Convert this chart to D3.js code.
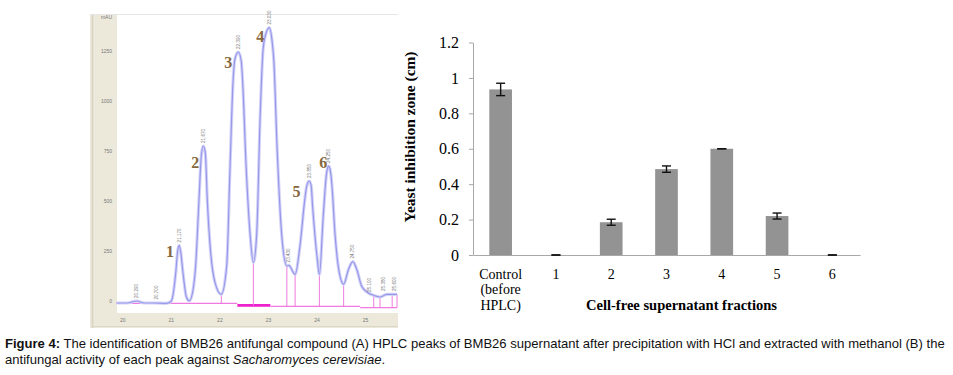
<!DOCTYPE html>
<html>
<head>
<meta charset="utf-8">
<script src="https://cdn.jsdelivr.net/npm/d3@7/dist/d3.min.js"></script>
<style>
  html, body { margin: 0; padding: 0; background: #ffffff; }
  svg { display: block; }
</style>
</head>
<body>
<svg id="fig" width="953" height="375"></svg>
<script>
// ---------------- DATA ----------------
// (A) HPLC chromatogram: retention time (min) and signal (mAU)
const chromTime = [19.88, 20.10, 20.29, 20.45, 20.63, 20.91, 21.01, 21.10, 21.14, 21.17, 21.20, 21.25, 21.32, 21.38,
  21.46, 21.51, 21.58, 21.63, 21.67, 21.71, 21.75, 21.82, 21.91, 22.04, 22.15, 22.22, 22.28, 22.32, 22.39, 22.45, 22.48, 22.55,
  22.63, 22.70, 22.77, 22.84, 22.90, 22.95, 23.03, 23.09, 23.12, 23.19, 23.28, 23.39, 23.43, 23.56, 23.66, 23.76,
  23.80, 23.85, 23.89, 23.92, 24.01, 24.06, 24.14, 24.21, 24.23, 24.25, 24.28, 24.32, 24.38, 24.47, 24.56, 24.66, 24.75, 24.83,
  24.93, 25.04, 25.18, 25.31, 25.45, 25.56, 25.66];
const chromSignal = [-10, -10, 0, -10, -10, -12, 0, 140, 250, 278, 250, 140, 20, 0,
  60, 175, 508, 735, 775, 740, 508, 242, 92, 33, 175, 675, 1092, 1210, 1245, 1200, 1092, 675,
  342, 192, 342, 925, 1258, 1330, 1367, 1290, 1208, 758, 342, 175, 178, 133, 275, 508,
  575, 600, 578, 475, 225, 133, 425, 642, 665, 675, 660, 575, 342, 142, 83, 158, 197, 158,
  75, 45, 28, 20, 33, 33, 33];
const chromXTicks = [20, 21, 22, 23, 24, 25];
const chromYTicks = [0, 250, 500, 750, 1000, 1250];
const chromYUnit = "mAU";
// integration baseline segments [start, end, level, thick]
const baseStart = [19.88, 22.37, 23.05, 24.90];
const baseEnd   = [22.37, 23.05, 24.90, 25.66];
const baseLevel = [-12, -22, -27, -33];
const baseThick = [false, true, false, false];
// drop lines between peaks
const dropTimes = [22.04, 22.70, 23.39, 23.56, 24.06, 24.56, 25.18, 25.31, 25.56, 25.66];
// retention-time labels above peaks
const rtTimes  = [20.29, 20.70, 21.17, 21.67, 22.39, 23.03, 23.43, 23.85, 24.25, 24.75, 25.10, 25.38, 25.60];
const rtTops   = [0, -8, 278, 775, 1245, 1367, 178, 600, 675, 197, 30, 35, 35];
// numbered fractions drawn on the chromatogram
const peakNames = ["1", "2", "3", "4", "5", "6"];
const peakNameT = [20.98, 21.50, 22.18, 22.84, 23.59, 24.14];
const peakNameV = [220, 665, 1165, 1295, 520, 665];

// (B) bar chart
const categories = ["Control (before HPLC)", "1", "2", "3", "4", "5", "6"];
const categoryLines = [["Control", "(before", "HPLC)"], ["1"], ["2"], ["3"], ["4"], ["5"], ["6"]];
const inhibition = [0.935, 0, 0.185, 0.485, 0.60, 0.22, 0];
const inhibitionErr = [0.035, 0, 0.017, 0.018, 0, 0.017, 0];
const barYTicks = [0, 0.2, 0.4, 0.6, 0.8, 1, 1.2];
const barYTitle = "Yeast inhibition zone (cm)";
const barXTitle = "Cell-free supernatant fractions";

// caption
const captionBold = "Figure 4:";
const captionLine1 = " The identification of BMB26 antifungal compound (A) HPLC peaks of BMB26 supernatant after precipitation with HCl and extracted with methanol (B) the";
const captionLine2a = "antifungal activity of each peak against ";
const captionLine2b = "Sacharomyces cerevisiae";
const captionLine2c = ".";

// ---------------- DRAW ----------------
const svg = d3.select("#fig");

// ---- Panel A ----
const pA = svg.append("g");
pA.append("rect").attr("x", 90).attr("y", 14).attr("width", 308).attr("height", 314).attr("fill", "#ece9da");
pA.append("line").attr("x1", 92.5).attr("x2", 92.5).attr("y1", 14).attr("y2", 328).attr("stroke", "#d6d2c2").attr("stroke-width", 1.5);
pA.append("line").attr("x1", 92).attr("x2", 398).attr("y1", 326.5).attr("y2", 326.5).attr("stroke", "#dcd8c8").attr("stroke-width", 1);
pA.append("rect").attr("x", 117).attr("y", 14).attr("width", 281).attr("height", 299).attr("fill", "#ffffff");
pA.append("line").attr("x1", 90).attr("x2", 398).attr("y1", 14.5).attr("y2", 14.5).attr("stroke", "#e6e6e6");

const xC = d3.scaleLinear().domain([19.89, 25.68]).range([117, 398]);
const yC = d3.scaleLinear().domain([-60, 1435]).range([313, 14]);

// axis labels (tiny, grey)
const yAxC = d3.axisLeft(yC).tickValues(chromYTicks).tickSize(0).tickPadding(5).tickFormat(d3.format("d"));
const gy = pA.append("g").attr("transform", "translate(117,0)").call(yAxC);
gy.select(".domain").remove();
gy.selectAll("text").attr("font-size", 5).attr("font-family", "Liberation Sans, Arial, sans-serif").attr("fill", "#777");
pA.append("text").attr("x", 112).attr("y", 19).attr("text-anchor", "end").attr("font-size", 5)
  .attr("font-family", "Liberation Sans, Arial, sans-serif").attr("fill", "#777").text(chromYUnit);

const xAxC = d3.axisBottom(xC).tickValues(chromXTicks).tickSize(0).tickPadding(4).tickFormat(d3.format("d"));
const gx = pA.append("g").attr("transform", "translate(0,314)").call(xAxC);
gx.select(".domain").remove();
gx.selectAll("text").attr("font-size", 5).attr("font-family", "Liberation Sans, Arial, sans-serif").attr("fill", "#777");

// baseline segments
baseStart.forEach((s, i) => {
  pA.append("line")
    .attr("x1", xC(s)).attr("x2", xC(baseEnd[i]))
    .attr("y1", yC(baseLevel[i])).attr("y2", yC(baseLevel[i]))
    .attr("stroke", baseThick[i] ? "#ee22cc" : "#f07ae0")
    .attr("stroke-width", baseThick[i] ? 2.6 : 1.1);
});
// drop lines
function levelAt(t) {
  for (let i = 0; i < baseStart.length; i++) if (t >= baseStart[i] && t <= baseEnd[i]) return baseLevel[i];
  return baseLevel[baseLevel.length - 1];
}
dropTimes.forEach(t => {
  const idx = chromTime.findIndex(v => Math.abs(v - t) < 0.005);
  const top = idx >= 0 ? chromSignal[idx] : 30;
  pA.append("line").attr("x1", xC(t)).attr("x2", xC(t))
    .attr("y1", yC(top)).attr("y2", yC(levelAt(t)))
    .attr("stroke", "#f07ae0").attr("stroke-width", 1);
});

// chromatogram line
const chromPts = chromTime.map((t, i) => [t, chromSignal[i]]);
const line = d3.line().x(d => xC(d[0])).y(d => yC(d[1])).curve(d3.curveMonotoneX);
pA.append("path").datum(chromPts).attr("d", line).attr("fill", "none")
  .attr("stroke", "#d4d4f8").attr("stroke-width", 3.2);
pA.append("path").datum(chromPts).attr("d", line).attr("fill", "none")
  .attr("stroke", "#9898ea").attr("stroke-width", 1.2);

// retention time labels
rtTimes.forEach((t, i) => {
  const x = xC(t), y = yC(rtTops[i]) - 3;
  pA.append("text").attr("transform", `translate(${x + 1.6},${y}) rotate(-90)`)
    .attr("font-size", 4.6).attr("font-family", "Liberation Sans, Arial, sans-serif")
    .attr("fill", "#7a7a7a").text(t.toFixed(3));
});

// fraction numbers
peakNames.forEach((n, i) => {
  pA.append("text").attr("x", xC(peakNameT[i])).attr("y", yC(peakNameV[i]))
    .attr("text-anchor", "middle").attr("font-size", 16).attr("font-weight", "bold")
    .attr("font-family", "Liberation Serif, Times New Roman, serif")
    .attr("fill", "#86683e").text(n);
});

// ---- Panel B ----
const pB = svg.append("g");
const serif = "Liberation Serif, Times New Roman, serif";
const xB = d3.scaleBand().domain(categories).range([473, 860]).paddingInner(0.59).paddingOuter(0.295);
const yB = d3.scaleLinear().domain([0, 1.2]).range([255, 42.5]);

const yAxB = d3.axisLeft(yB).tickValues(barYTicks).tickSize(4).tickSizeOuter(0).tickPadding(10)
  .tickFormat(d => String(+d.toFixed(1)));
const gyb = pB.append("g").attr("transform", "translate(473,0)").call(yAxB);
gyb.select(".domain").attr("stroke", "#a8a8a8");
gyb.selectAll(".tick line").attr("stroke", "#a8a8a8");
gyb.selectAll("text").attr("font-size", 16).attr("font-family", serif).attr("fill", "#000");

// bars
pB.selectAll("rect.bar").data(categories).enter().append("rect").attr("class", "bar")
  .attr("x", d => xB(d)).attr("width", xB.bandwidth())
  .attr("y", (d, i) => yB(inhibition[i]))
  .attr("height", (d, i) => yB(0) - yB(inhibition[i]))
  .attr("fill", "#939393");

// x axis
const xAxB = d3.axisBottom(xB).tickSize(0).tickSizeOuter(0).tickFormat("");
const gxb = pB.append("g").attr("transform", "translate(0,255)").call(xAxB);
gxb.select(".domain").attr("stroke", "#a8a8a8").attr("stroke-width", 1.2);
categories.forEach((c, i) => {
  const t = pB.append("text").attr("x", xB(c) + xB.bandwidth() / 2).attr("y", 279)
    .attr("text-anchor", "middle").attr("font-size", 14).attr("font-family", serif).attr("fill", "#000");
  categoryLines[i].forEach((ln, j) => {
    t.append("tspan").attr("x", xB(c) + xB.bandwidth() / 2).attr("dy", j === 0 ? 0 : 15.3).text(ln);
  });
});

// error bars
categories.forEach((c, i) => {
  const cx = xB(c) + xB.bandwidth() / 2;
  const hi = yB(inhibition[i] + inhibitionErr[i]), lo = yB(inhibition[i] - inhibitionErr[i]);
  const g = pB.append("g").attr("stroke", "#111").attr("stroke-width", 1.4);
  g.append("line").attr("x1", cx).attr("x2", cx).attr("y1", hi).attr("y2", lo);
  g.append("line").attr("x1", cx - 4.5).attr("x2", cx + 4.5).attr("y1", hi).attr("y2", hi);
  g.append("line").attr("x1", cx - 4.5).attr("x2", cx + 4.5).attr("y1", lo).attr("y2", lo);
});

// axis titles
pB.append("text").attr("transform", "translate(415,137) rotate(-90)")
  .attr("text-anchor", "middle").attr("font-size", 14).attr("font-weight", "bold")
  .attr("font-family", serif).attr("textLength", 171).attr("lengthAdjust", "spacingAndGlyphs")
  .text(barYTitle);
pB.append("text").attr("x", 681.5).attr("y", 310)
  .attr("text-anchor", "middle").attr("font-size", 14).attr("font-weight", "bold")
  .attr("font-family", serif).attr("textLength", 191).attr("lengthAdjust", "spacingAndGlyphs")
  .text(barXTitle);

// ---- Caption (narrow look via horizontal scaling) ----
const capFont = "Liberation Sans, Arial, sans-serif";
const capG1 = svg.append("g");
const c1 = capG1.append("text").attr("x", 0).attr("y", 0).attr("font-size", 13.5)
  .attr("font-family", capFont).attr("fill", "#111");
c1.append("tspan").attr("font-weight", "bold").text(captionBold);
c1.append("tspan").text(captionLine1);
const w1 = c1.node().getComputedTextLength();
const sx = 941 / w1;
capG1.attr("transform", `translate(5,348) scale(${sx},1)`);
const capG2 = svg.append("g").attr("transform", `translate(5,364) scale(${sx},1)`);
const c2 = capG2.append("text").attr("x", 0).attr("y", 0).attr("font-size", 13.5)
  .attr("font-family", capFont).attr("fill", "#111");
c2.append("tspan").text(captionLine2a);
c2.append("tspan").attr("font-style", "italic").text(captionLine2b);
c2.append("tspan").text(captionLine2c);
</script>
</body>
</html>
